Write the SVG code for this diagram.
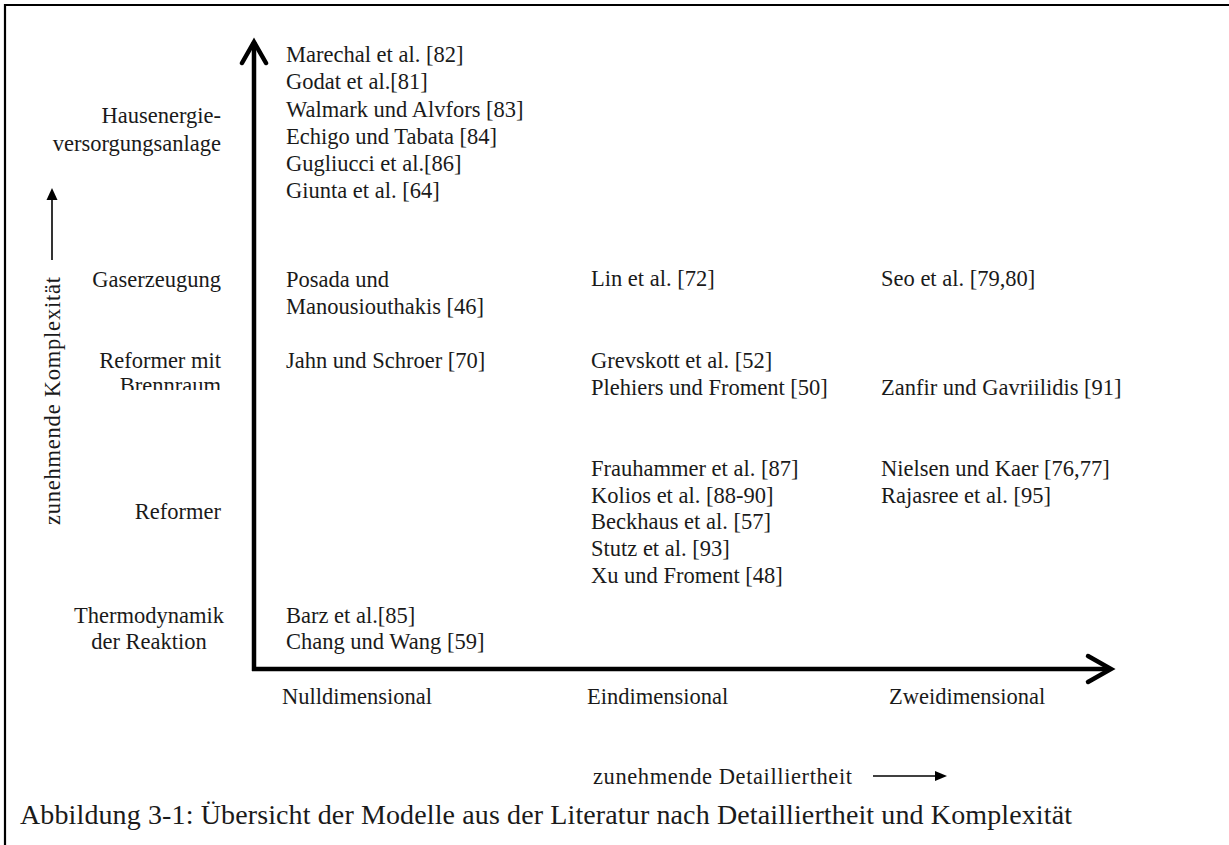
<svg xmlns="http://www.w3.org/2000/svg" width="1229" height="845" viewBox="0 0 1229 845">
<style>
text{font-family:"Liberation Serif","Times New Roman",serif;font-size:22.5px;fill:#1a1a1a}
.r{text-anchor:end}
.c{text-anchor:middle}
.cap{font-size:28px}
.axis{fill:none;stroke:#000;stroke-width:4.5}
.thin{fill:none;stroke:#000;stroke-width:1.6}
</style>
<defs>
<clipPath id="clipBr"><rect x="0" y="0" width="260" height="390"/></clipPath>
</defs>
<rect width="1229" height="845" fill="#fff"/>
<path d="M5,850 V5 H1235" fill="none" stroke="#000" stroke-width="2.2"/>
<g id="connectors">
<line class="axis" x1="254" y1="671" x2="254" y2="42"/>
<polyline class="axis" points="242,63 254,42 266,63" stroke-linecap="round"/>
<line class="axis" x1="252" y1="669" x2="1110" y2="669"/>
<polyline class="axis" points="1088,656 1111,669 1088,682" stroke-linecap="round"/>
<line class="thin" x1="52" y1="260" x2="52" y2="198"/>
<polygon points="52,188 46.5,200 57.5,200" fill="#000"/>
<line class="thin" x1="873" y1="776" x2="937" y2="776"/>
<polygon points="947,776 935,771 935,781" fill="#000"/>
</g>
<g id="ylabels">
<g id="y-haus"><text class="r" x="221" y="123">Hausenergie-</text><text class="r" x="221" y="151">versorgungsanlage</text></g>
<g id="y-gas"><text class="r" x="221" y="287">Gaserzeugung</text></g>
<g id="y-refbr"><text class="r" x="221" y="368">Reformer mit</text><text class="r" x="221" y="393" clip-path="url(#clipBr)">Brennraum</text></g>
<g id="y-ref"><text class="r" x="221" y="519">Reformer</text></g>
<g id="y-thermo"><text class="c" x="149" y="623">Thermodynamik</text><text class="c" x="149" y="649">der Reaktion</text></g>
<g id="y-title"><text class="c" transform="translate(60,401) rotate(-90)" textLength="248">zunehmende Komplexität</text></g>
</g>
<g id="xlabels">
<g id="x-null"><text x="282" y="704">Nulldimensional</text></g>
<g id="x-ein"><text x="587" y="704">Eindimensional</text></g>
<g id="x-zwei"><text x="889" y="704">Zweidimensional</text></g>
<g id="x-title"><text x="593" y="784" textLength="259">zunehmende Detailliertheit</text></g>
</g>
<g id="col0">
<g id="n-haus0">
<text x="286" y="62">Marechal et al. [82]</text>
<text x="286" y="89">Godat et al.[81]</text>
<text x="286" y="117">Walmark und Alvfors [83]</text>
<text x="286" y="144">Echigo und Tabata [84]</text>
<text x="286" y="171">Gugliucci et al.[86]</text>
<text x="286" y="198">Giunta et al. [64]</text>
</g>
<g id="n-gas0"><text x="286" y="287">Posada und</text><text x="286" y="314">Manousiouthakis [46]</text></g>
<g id="n-refbr0"><text x="286" y="368">Jahn und Schroer [70]</text></g>
<g id="n-thermo0"><text x="286" y="623">Barz et al.[85]</text><text x="286" y="649">Chang und Wang [59]</text></g>
</g>
<g id="col1">
<g id="n-gas1"><text x="591" y="286">Lin et al. [72]</text></g>
<g id="n-refbr1"><text x="591" y="368">Grevskott et al. [52]</text><text x="591" y="395">Plehiers und Froment [50]</text></g>
<g id="n-ref1">
<text x="591" y="476">Frauhammer et al. [87]</text>
<text x="591" y="503">Kolios et al. [88-90]</text>
<text x="591" y="529">Beckhaus et al. [57]</text>
<text x="591" y="556">Stutz et al. [93]</text>
<text x="591" y="583">Xu und Froment [48]</text>
</g>
</g>
<g id="col2">
<g id="n-gas2"><text x="881" y="286">Seo et al. [79,80]</text></g>
<g id="n-refbr2"><text x="881" y="395">Zanfir und Gavriilidis [91]</text></g>
<g id="n-ref2"><text x="881" y="476">Nielsen und Kaer [76,77]</text><text x="881" y="503">Rajasree et al. [95]</text></g>
</g>
<g id="caption"><text class="cap" x="20" y="824" textLength="1052">Abbildung 3-1: Übersicht der Modelle aus der Literatur nach Detailliertheit und Komplexität</text></g>
</svg>
